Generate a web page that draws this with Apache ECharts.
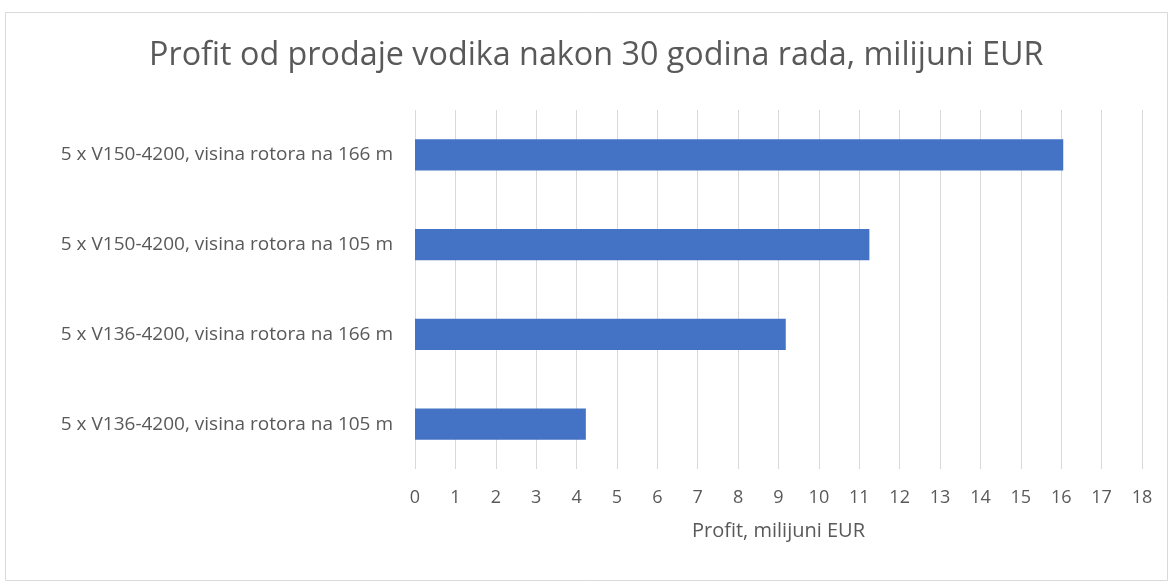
<!DOCTYPE html>
<html><head><meta charset="utf-8">
<script src="https://cdn.jsdelivr.net/npm/echarts@6/dist/echarts.min.js"></script>
<style>html,body{margin:0;padding:0;background:#fff}#c{width:1170px;height:583px}</style>
</head><body><div id="c"></div>
<script>
const categories = [
  "5 x V136-4200, visina rotora na 105 m",
  "5 x V136-4200, visina rotora na 166 m",
  "5 x V150-4200, visina rotora na 105 m",
  "5 x V150-4200, visina rotora na 166 m"
];
const profit = [4.23, 9.18, 11.25, 16.05];
const titleText = "Profit od prodaje vodika nakon 30 godina rada, milijuni EUR";
const axisName = "Profit, milijuni EUR";

const chart = echarts.init(document.getElementById('c'));
const font = "'Open Sans', sans-serif";
chart.setOption({
  animation: false,
  backgroundColor: '#fff',
  graphic: [{type:'rect', shape:{x:5.5,y:12.5,width:1162,height:568}, style:{fill:'none', stroke:'#d9d9d9', lineWidth:1}}],
  title: {text: titleText, left: 144, top: 35,
    textStyle: {fontFamily: font, fontSize: 32.3, fontWeight: 'normal', color: '#595959'}},
  grid: {left: 415, right: 28, top: 110, bottom: 114},
  xAxis: {type: 'value', min: 0, max: 18, interval: 1,
    name: axisName, nameLocation: 'middle', nameGap: 52,
    nameTextStyle: {fontFamily: font, fontSize: 20, color: '#595959'},
    axisLine: {show: false}, axisTick: {show: false},
    axisLabel: {fontFamily: font, fontSize: 18, color: '#595959', margin: 20},
    splitLine: {lineStyle: {color: '#d9d9d9', width: 1}}},
  yAxis: {type: 'category', data: categories,
    axisLine: {show: false}, axisTick: {show: false},
    axisLabel: {fontFamily: font, fontSize: 19, color: '#595959', margin: 22}},
  series: [{type: 'bar', data: profit, barCategoryGap: '65%',
    itemStyle: {color: '#4472c4'}}]
});
</script></body></html>
